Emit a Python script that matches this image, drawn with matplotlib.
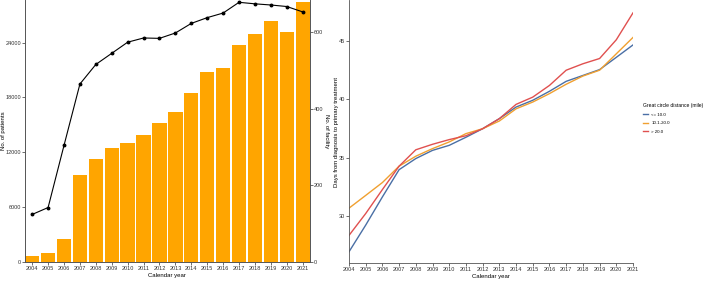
import matplotlib.pyplot as plt
import numpy as np

# data
years = list(range(2004, 2022))
patients = [700, 950, 2520, 9490, 11240, 12450, 13030, 13870, 15190, 16420,
            18470, 20800, 21200, 23680, 24890, 26390, 25150, 28430]
facilities = [124, 142, 304, 464, 515, 544, 573, 584, 583, 597,
              622, 637, 649, 677, 673, 670, 666, 652]

days_le10 = [26.98, 29.26, 31.67, 34.0, 34.95, 35.65, 36.08, 36.77, 37.5, 38.36,
             39.35, 39.93, 40.7, 41.55, 42.05, 42.55, 43.6, 44.66]
days_10_20 = [30.71, 31.8, 32.9, 34.3, 35.15, 35.8, 36.37, 37.08, 37.5, 38.16,
              39.2, 39.78, 40.5, 41.3, 42.0, 42.5, 43.9, 45.3]
days_gt20 = [28.38, 30.25, 32.3, 34.3, 35.7, 36.17, 36.57, 36.9, 37.5, 38.36,
             39.58, 40.2, 41.2, 42.5, 43.05, 43.5, 45.1, 47.4]

groups = ['<= 10.0', '10.1-20.0', '> 20.0']
colors = ['#4A6FA5', '#F0A030', '#E0504F']

plt.rcParams['font.family'] = 'Liberation Sans'
fs_tick = 4
fs_lab = 4.3
spine_col = '#555555'

fig = plt.figure(figsize=(7.09, 2.81), dpi=100)

# ---- left panel: patients (bars) + facilities (line)
ax1 = fig.add_axes([0.0353, 0.0676, 0.4017, 0.9324])
ax1.bar(years, patients, width=0.9, color='#FFA500', edgecolor='none', zorder=2)
ax1.set_xlim(2003.55, 2021.45)
ax1.set_ylim(0, 28650)
ax1.set_yticks([0, 6000, 12000, 18000, 24000])
ax1.set_xticks(years)
ax1.set_ylabel('No. of patients', fontsize=fs_lab)
ax1.yaxis.set_label_coords(-0.068, 0.5)
ax1.set_xlabel('Calendar year', fontsize=fs_lab, labelpad=1)

ax2 = ax1.twinx()
ax2.plot(years, facilities, color='black', lw=0.8, marker='o', ms=1.8, zorder=3)
ax2.set_ylim(0, 683)
ax2.set_yticks([0, 200, 400, 600])
ax2.set_ylabel('No. of facility', fontsize=fs_lab, rotation=270, va='center')
ax2.yaxis.set_label_coords(1.06, 0.5)

for a in (ax1, ax2):
    a.tick_params(labelsize=fs_tick, length=2, width=0.5, pad=1, colors='#333333')
    a.spines['top'].set_visible(False)
    for s in ('left', 'right', 'bottom'):
        a.spines[s].set_color(spine_col)
        a.spines[s].set_linewidth(0.6)

# ---- right panel: days to treatment by distance
ax3 = fig.add_axes([0.4922, 0.063, 0.4006, 0.937])
for g, vals, c in zip(groups, [days_le10, days_10_20, days_gt20], colors):
    ax3.plot(years, vals, color=c, lw=1.0, label=g)
ax3.set_xlim(2004, 2021)
ax3.set_ylim(26.0, 48.5)
ax3.set_yticks([30, 35, 40, 45])
ax3.set_xticks(years)
ax3.set_ylabel('Days from diagnosis to primary treatment', fontsize=fs_lab, va='center')
ax3.yaxis.set_label_coords(-0.043, 0.5)
ax3.set_xlabel('Calendar year', fontsize=fs_lab, labelpad=1)
ax3.tick_params(labelsize=fs_tick, length=2, width=0.5, pad=1, colors='#333333')
for s in ('top', 'right'):
    ax3.spines[s].set_visible(False)
for s in ('left', 'bottom'):
    ax3.spines[s].set_color(spine_col)
    ax3.spines[s].set_linewidth(0.6)

leg = ax3.legend(title='Great circle distance (mile)', fontsize=3.2, title_fontsize=3.6,
                 loc='center left', bbox_to_anchor=(1.03, 0.55), frameon=False,
                 handlelength=1.0, handletextpad=0.8, labelspacing=1.0, borderaxespad=0)
leg._legend_box.align = 'left'

fig.savefig('out.png', dpi=100)
